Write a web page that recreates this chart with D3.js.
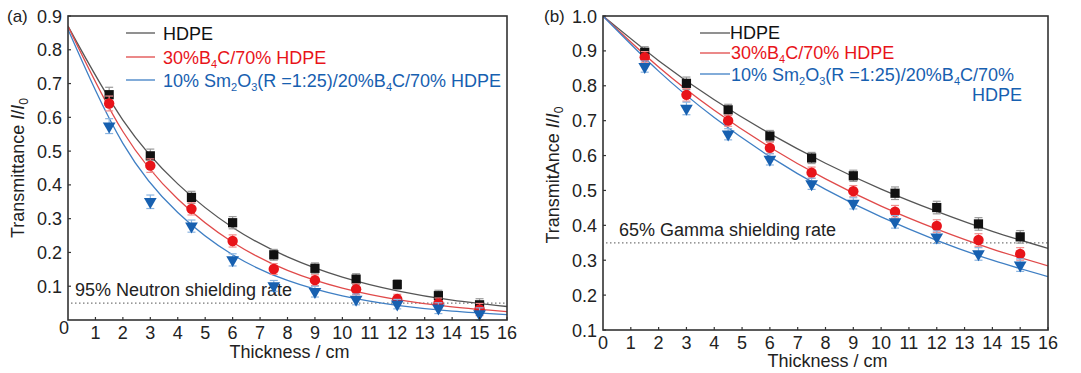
<!DOCTYPE html>
<html>
<head>
<meta charset="utf-8">
<script src="https://cdn.jsdelivr.net/npm/d3@7"></script>
<style>
  body { margin: 0; background: #fff; }
  svg { font-family: "Liberation Sans", Arial, sans-serif; }
</style>
</head>
<body>
<svg id="chart" width="1081" height="373"></svg>
<script>
const thickness = [1.5, 3, 4.5, 6, 7.5, 9, 10.5, 12, 13.5, 15];
const fitX = [0, 2, 4, 6, 8, 10, 12, 14, 16];
const xTicks = [1, 2, 3, 4, 5, 6, 7, 8, 9, 10, 11, 12, 13, 14, 15, 16];

// (a) neutron transmittance
const neutronHDPE = [0.667, 0.486, 0.363, 0.288, 0.193, 0.153, 0.121, 0.105, 0.072, 0.045];
const neutronB4C = [0.641, 0.457, 0.329, 0.234, 0.151, 0.118, 0.091, 0.062, 0.049, 0.031];
const neutronSm = [0.574, 0.350, 0.278, 0.178, 0.101, 0.084, 0.061, 0.047, 0.035, 0.018];
const neutronErr = [0.022, 0.020, 0.018, 0.018, 0.016, 0.016, 0.016, 0.014, 0.016, 0.018];
const neutronFitHDPE = [0.870, 0.592, 0.403, 0.274, 0.187, 0.127, 0.0864, 0.0588, 0.040];
const neutronFitB4C = [0.870, 0.558, 0.358, 0.230, 0.147, 0.0945, 0.0606, 0.0389, 0.0249];
const neutronFitSm = [0.860, 0.523, 0.318, 0.193, 0.117, 0.0713, 0.0433, 0.0263, 0.016];
const neutronYTicks = [0.1, 0.2, 0.3, 0.4, 0.5, 0.6, 0.7, 0.8, 0.9];

// (b) gamma transmittance
const gammaHDPE = [0.896, 0.807, 0.731, 0.656, 0.593, 0.542, 0.492, 0.451, 0.404, 0.367];
const gammaB4C = [0.882, 0.774, 0.700, 0.622, 0.551, 0.498, 0.439, 0.398, 0.358, 0.318];
const gammaSm = [0.855, 0.735, 0.661, 0.589, 0.519, 0.463, 0.410, 0.366, 0.318, 0.286];
const gammaErr = [0.016, 0.018, 0.016, 0.016, 0.016, 0.016, 0.018, 0.018, 0.018, 0.018];
const gammaFitHDPE = [1.000, 0.872, 0.760, 0.663, 0.578, 0.504, 0.440, 0.383, 0.334];
const gammaFitB4C = [1.000, 0.854, 0.730, 0.624, 0.533, 0.455, 0.389, 0.332, 0.284];
const gammaFitSm = [1.000, 0.842, 0.709, 0.597, 0.503, 0.424, 0.357, 0.300, 0.253];
const gammaYTicks = [0.1, 0.2, 0.3, 0.4, 0.5, 0.6, 0.7, 0.8, 0.9, 1.0];

const colors = { black: "#111111", red: "#e8141a", blue: "#1760b0" };
const lineColors = { black: "#555555", red: "#e04a4a", blue: "#3f7fc4" };
const errColors = { black: "#9a9a9a", red: "#f08c8c", blue: "#8ab4e0" };
const fs = 18;

const svg = d3.select("#chart");

function drawPanel(cfg) {
    const x = d3.scaleLinear().domain([0, 16]).range([cfg.left, cfg.right]);
    const y = d3.scaleLinear().domain(cfg.yDomain).range([cfg.bottom, cfg.top]);
    const g = svg.append("g");

    // clip for curves
    const clipId = "clip-" + cfg.id;
    svg.append("clipPath").attr("id", clipId)
        .append("rect")
        .attr("x", cfg.left).attr("y", cfg.top)
        .attr("width", cfg.right - cfg.left).attr("height", cfg.bottom - cfg.top);

    // threshold dotted line
    g.append("line")
        .attr("x1", x(0) + 3).attr("x2", x(16))
        .attr("y1", y(cfg.threshold)).attr("y2", y(cfg.threshold))
        .attr("stroke", "#777").attr("stroke-width", 1.2)
        .attr("stroke-dasharray", "1.5,2.5");

    g.append("text")
        .attr("x", cfg.thresholdLabelX)
        .attr("y", cfg.thresholdLabelY)
        .attr("font-size", fs)
        .attr("fill", "#222")
        .text(cfg.thresholdLabel);

    // fit curves
    const line = d3.line()
        .x((d, i) => x(fitX[i]))
        .y(d => y(d))
        .curve(d3.curveNatural);

    const fits = g.append("g").attr("clip-path", "url(#" + clipId + ")");
    cfg.series.forEach(s => {
        fits.append("path")
            .attr("d", line(s.fit))
            .attr("fill", "none")
            .attr("stroke", lineColors[s.color])
            .attr("stroke-width", 1.3);
    });

    // error bars and markers
    cfg.series.forEach(s => {
        const eg = g.append("g");
        s.values.forEach((v, i) => {
            const cx = x(thickness[i]);
            const e = cfg.err[i];
            eg.append("line")
                .attr("x1", cx).attr("x2", cx)
                .attr("y1", y(v - e)).attr("y2", y(v + e))
                .attr("stroke", errColors[s.color]).attr("stroke-width", 1.2);
            [v - e, v + e].forEach(ev => {
                eg.append("line")
                    .attr("x1", cx - 4).attr("x2", cx + 4)
                    .attr("y1", y(ev)).attr("y2", y(ev))
                    .attr("stroke", errColors[s.color]).attr("stroke-width", 1.2);
            });
        });

        const sym = d3.symbol().type(s.shape).size(s.size);
        g.append("g").selectAll("path")
            .data(s.values)
            .enter()
            .append("path")
            .attr("d", sym)
            .attr("transform", (d, i) => {
                const rot = s.rotate ? " rotate(180)" : "";
                return "translate(" + x(thickness[i]) + "," + y(d) + ")" + rot;
            })
            .attr("fill", colors[s.color]);
    });

    // frame
    g.append("rect")
        .attr("x", cfg.left).attr("y", cfg.top)
        .attr("width", cfg.right - cfg.left).attr("height", cfg.bottom - cfg.top)
        .attr("fill", "none").attr("stroke", "#333").attr("stroke-width", 1.6);

    // x ticks (inward)
    const xa = g.append("g");
    xa.selectAll("line").data(xTicks).enter().append("line")
        .attr("x1", d => x(d)).attr("x2", d => x(d))
        .attr("y1", cfg.bottom).attr("y2", cfg.bottom - 3)
        .attr("stroke", "#333").attr("stroke-width", 1.2);
    xa.selectAll("text").data(xTicks).enter().append("text")
        .attr("x", d => x(d)).attr("y", cfg.bottom + cfg.xLabelGap)
        .attr("text-anchor", "middle")
        .attr("font-size", fs).attr("fill", "#222")
        .text(d => d);

    // y ticks (inward)
    const ya = g.append("g");
    ya.selectAll("line").data(cfg.yTicks).enter().append("line")
        .attr("x1", cfg.left).attr("x2", cfg.left + 3)
        .attr("y1", d => y(d)).attr("y2", d => y(d))
        .attr("stroke", "#333").attr("stroke-width", 1.2);
    ya.selectAll("text").data(cfg.yTicks).enter().append("text")
        .attr("x", cfg.left - 6).attr("y", d => y(d) + 6.5)
        .attr("text-anchor", "end")
        .attr("font-size", fs).attr("fill", "#222")
        .text(d => d.toFixed(1));

    // x axis title
    g.append("text")
        .attr("x", (cfg.left + cfg.right) / 2 + 2)
        .attr("y", cfg.bottom + cfg.xTitleGap)
        .attr("text-anchor", "middle")
        .attr("font-size", fs).attr("fill", "#222")
        .text("Thickness / cm");

    // y axis title
    const yt = g.append("text")
        .attr("transform", "translate(" + cfg.yTitleX + "," + cfg.yTitleY + ") rotate(-90)")
        .attr("text-anchor", "middle")
        .attr("font-size", fs).attr("fill", "#222");
    yt.append("tspan").text(cfg.yTitle + " ");
    yt.append("tspan").attr("font-style", "italic").text("I");
    yt.append("tspan").text("/");
    yt.append("tspan").attr("font-style", "italic").text("I");
    yt.append("tspan").attr("font-size", 12).attr("dy", 4).text("0");

    // panel label
    g.append("text")
        .attr("x", cfg.panelX).attr("y", 22)
        .attr("font-size", 17).attr("fill", "#222")
        .text(cfg.panel);

    return { x, y, g };
}

function legendLabel(text, parts) {
    parts.forEach(p => {
        const t = text.append("tspan").text(p.t);
        if (p.sub) t.attr("font-size", 11).attr("dy", 4);
        if (p.up) t.attr("dy", -4);
    });
}

const legendB4C = [{ t: "30%B" }, { t: "4", sub: true }, { t: "C/70% HDPE", up: true }];
const legendSmFull = [{ t: "10% Sm" }, { t: "2", sub: true }, { t: "O", up: true }, { t: "3", sub: true },
    { t: "(R =1:25)/20%B", up: true }, { t: "4", sub: true }, { t: "C/70% HDPE", up: true }];
const legendSmShort = [{ t: "10% Sm" }, { t: "2", sub: true }, { t: "O", up: true }, { t: "3", sub: true },
    { t: "(R =1:25)/20%B", up: true }, { t: "4", sub: true }, { t: "C/70%", up: true }];

// ---- panel (a)
const pa = drawPanel({
    id: "a", panel: "(a)", panelX: 7,
    left: 68, right: 507, top: 16, bottom: 320,
    yDomain: [0, 0.9], yTicks: neutronYTicks,
    err: neutronErr, threshold: 0.05,
    thresholdLabel: "95% Neutron shielding rate", thresholdLabelX: 75, thresholdLabelY: 296,
    xLabelGap: 19, xTitleGap: 38,
    yTitle: "Transmittance", yTitleX: 24, yTitleY: 168,
    series: [
        { color: "black", values: neutronHDPE, fit: neutronFitHDPE, shape: d3.symbolSquare, size: 85 },
        { color: "red", values: neutronB4C, fit: neutronFitB4C, shape: d3.symbolCircle, size: 85 },
        { color: "blue", values: neutronSm, fit: neutronFitSm, shape: d3.symbolTriangle, size: 70, rotate: true }
    ]
});
pa.g.append("text").attr("x", 59).attr("y", 334).attr("font-size", fs).attr("fill", "#222").text("0");

// legend (a)
const legA = svg.append("g");
[["black", 33], ["red", 57], ["blue", 80]].forEach(([c, yy]) => {
    legA.append("line").attr("x1", 126).attr("x2", 155).attr("y1", yy).attr("y2", yy)
        .attr("stroke", lineColors[c]).attr("stroke-width", 1.3);
});
legA.append("text").attr("x", 163).attr("y", 40).attr("font-size", fs).attr("fill", colors.black).text("HDPE");
legendLabel(legA.append("text").attr("x", 163).attr("y", 64).attr("font-size", fs).attr("fill", colors.red), legendB4C);
legendLabel(legA.append("text").attr("x", 163).attr("y", 87).attr("font-size", fs).attr("fill", colors.blue), legendSmFull);

// ---- panel (b)
const pb = drawPanel({
    id: "b", panel: "(b)", panelX: 544,
    left: 603, right: 1048, top: 16, bottom: 330,
    yDomain: [0.1, 1.0], yTicks: gammaYTicks,
    err: gammaErr, threshold: 0.35,
    thresholdLabel: "65% Gamma shielding rate", thresholdLabelX: 619, thresholdLabelY: 236,
    xLabelGap: 19, xTitleGap: 37,
    yTitle: "TransmitAnce", yTitleX: 559, yTitleY: 175,
    series: [
        { color: "black", values: gammaHDPE, fit: gammaFitHDPE, shape: d3.symbolSquare, size: 85 },
        { color: "red", values: gammaB4C, fit: gammaFitB4C, shape: d3.symbolCircle, size: 85 },
        { color: "blue", values: gammaSm, fit: gammaFitSm, shape: d3.symbolTriangle, size: 70, rotate: true }
    ]
});
pb.g.append("text").attr("x", pb.x(0)).attr("y", 349).attr("text-anchor", "middle")
    .attr("font-size", fs).attr("fill", "#222").text("0");

// legend (b)
const legB = svg.append("g");
[["black", 33], ["red", 53], ["blue", 74]].forEach(([c, yy]) => {
    legB.append("line").attr("x1", 700).attr("x2", 730).attr("y1", yy).attr("y2", yy)
        .attr("stroke", lineColors[c]).attr("stroke-width", 1.3);
});
legB.append("text").attr("x", 730).attr("y", 39).attr("font-size", fs).attr("fill", colors.black).text("HDPE");
legendLabel(legB.append("text").attr("x", 731).attr("y", 59).attr("font-size", fs).attr("fill", colors.red), legendB4C);
legendLabel(legB.append("text").attr("x", 731).attr("y", 81).attr("font-size", fs).attr("fill", colors.blue), legendSmShort);
legB.append("text").attr("x", 1022).attr("y", 101).attr("text-anchor", "end")
    .attr("font-size", fs).attr("fill", colors.blue).text("HDPE");
</script>
</body>
</html>
